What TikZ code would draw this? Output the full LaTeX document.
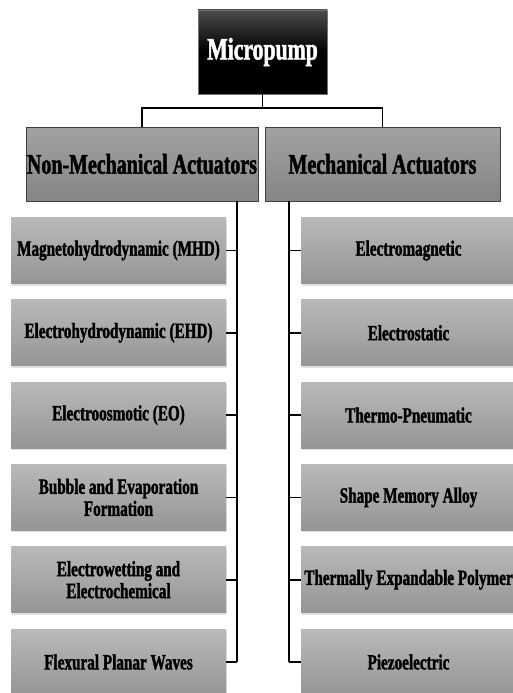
\documentclass[tikz,border=0pt]{standalone}
\usepackage{fontspec}
\setmainfont{Liberation Serif}[FakeStretch=0.7, BoldFeatures={FakeBold=1.6}]
\usetikzlibrary{calc}
\usetikzlibrary{shadows}
\usepackage{xcolor}
\definecolor{kindtop}{HTML}{A2A2A2}
\definecolor{kindbot}{HTML}{858585}
\definecolor{itemtop}{HTML}{B9B9B9}
\definecolor{itembot}{HTML}{959595}

\begin{document}
\begin{tikzpicture}[x=1pt, y=-1pt,
 root/.style={draw=black!55, top color=black!70, bottom color=black, middle color=black,
   text=white, font=\bfseries\fontsize{31}{33}\selectfont,
   minimum width=129pt, minimum height=84pt, inner sep=0pt},
 kind/.style={draw=black!75, line width=.8pt, top color=kindtop, bottom color=kindbot,
   text=black, font=\bfseries\fontsize{28.5}{30}\selectfont,
   minimum height=74pt, inner sep=0pt},
 item/.style={top color=itemtop, bottom color=itembot, text=black,
   font=\bfseries\fontsize{21.7}{22}\selectfont, align=center,
   minimum width=215pt, minimum height=66pt, inner sep=0pt,
   drop shadow={opacity=.25, shadow xshift=.5pt, shadow yshift=-2pt}},
 link/.style={black, line width=1.7pt}]
\useasboundingbox (0,0) rectangle (513,693);
\clip (0,0) rectangle (513,693);
% top and the two kinds
\node[root] (pump) at (262.5,52) {Micropump};
\node[kind, minimum width=232pt] (nonmech) at (142,164) {Non-Mechanical Actuators};
\node[kind, minimum width=235pt] (mech) at (382.5,164) {Mechanical Actuators};
\coordinate (bus) at ($(pump.south)+(0,14)$);
\draw[link] (pump.south) -- (bus);
\draw[link] (nonmech.north) |- (bus) -| (mech.north);
% spines
\coordinate (lspine) at (237,0);
\coordinate (rspine) at (289,0);
\foreach \t [count=\i] in {{Magnetohydrodynamic (MHD)}, {Electrohydrodynamic (EHD)},
  {Electroosmotic (EO)}, {Bubble and Evaporation\\Formation},
  {Electrowetting and\\Electrochemical}, {Flexural Planar Waves}} {
 \node[item] (l\i) at (118.5,{250.5+82.3*(\i-1)}) {\t};
 \draw[link] (l\i.east) -- (l\i.east -| lspine);
}
\foreach \t [count=\i] in {Electromagnetic, Electrostatic, Thermo-Pneumatic,
  {Shape Memory Alloy}, {Thermally Expandable Polymer}, Piezoelectric} {
 \node[item] (r\i) at (408.5,{250.5+82.3*(\i-1)}) {\t};
 \draw[link] (r\i.west) -- (r\i.west -| rspine);
}
\draw[link] (nonmech.south -| lspine) -- (l6.east -| lspine);
\draw[link] (mech.south -| rspine) -- (r6.west -| rspine);
\end{tikzpicture}
\end{document}
